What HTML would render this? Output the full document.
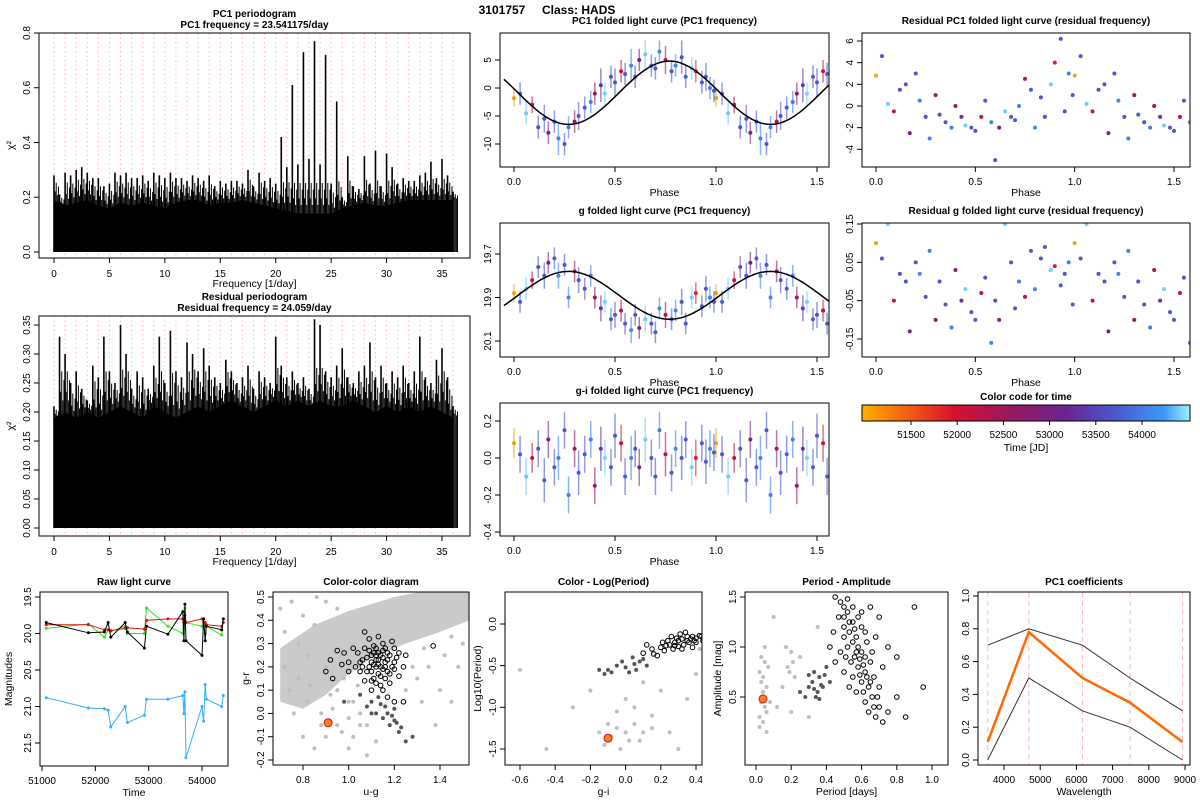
<!DOCTYPE html>
<html><head><meta charset="utf-8"><title>3101757 Class: HADS</title>
<style>
html,body{margin:0;padding:0;background:#fff;}
svg{display:block;font-family:"Liberation Sans",Arial,sans-serif;}
</style></head>
<body>
<svg id="fig" width="1200" height="800" viewBox="0 0 1200 800" xmlns="http://www.w3.org/2000/svg">
<defs>
<linearGradient id="tgrad" x1="0" x2="1" y1="0" y2="0">
<stop offset="0" stop-color="#ffb000"/><stop offset="0.12" stop-color="#f56a10"/><stop offset="0.28" stop-color="#d8102e"/><stop offset="0.45" stop-color="#9a1860"/><stop offset="0.62" stop-color="#6a2490"/><stop offset="0.78" stop-color="#4a5ad0"/><stop offset="0.92" stop-color="#3a9af8"/><stop offset="1" stop-color="#a0f0ff"/>
</linearGradient>
</defs>
<text x="547" y="14" font-size="12" font-weight="bold" text-anchor="middle" xml:space="preserve">3101757     Class: HADS</text>
</svg>
<script>
// ---------- DATA ----------
const pc1PeakFreq=[0,0.5,1,1.5,2,2.5,3,3.5,4,4.5,5,5.5,6,6.5,7,7.5,8,8.5,9,9.5,10,10.5,11,11.5,12,12.5,13,13.5,14,14.5,15,15.5,16,16.5,17,17.5,18,18.5,19,19.5,20,20.5,21,21.5,22,22.5,23,23.5,24,24.5,25,25.5,26,26.5,27,27.5,28,28.5,29,29.5,30,30.5,31,31.5,32,32.5,33,33.5,34,34.5,35,35.5,36];
const pc1Peaks=[0.28,0.21,0.29,0.28,0.3,0.31,0.29,0.27,0.27,0.24,0.25,0.29,0.28,0.29,0.27,0.27,0.28,0.26,0.29,0.28,0.27,0.29,0.27,0.27,0.26,0.28,0.27,0.26,0.28,0.24,0.26,0.25,0.26,0.26,0.25,0.3,0.24,0.29,0.26,0.27,0.25,0.42,0.31,0.61,0.32,0.73,0.34,0.77,0.32,0.72,0.25,0.55,0.2,0.35,0.24,0.23,0.35,0.25,0.37,0.24,0.36,0.31,0.25,0.27,0.26,0.26,0.28,0.29,0.33,0.27,0.34,0.28,0.22];
const floorFreq=[0,1,2,3,4,5,6,7,8,9,10,11,12,13,14,15,16,17,18,19,20,21,22,23,24,25,26,27,28,29,30,31,32,33,34,35,36];
const pc1Floor=[0.19,0.17,0.18,0.19,0.17,0.16,0.18,0.17,0.18,0.17,0.16,0.18,0.19,0.19,0.17,0.18,0.18,0.19,0.18,0.17,0.16,0.15,0.14,0.14,0.14,0.14,0.16,0.17,0.18,0.17,0.17,0.18,0.19,0.19,0.19,0.19,0.19];
const resPeaks=[0.21,0.33,0.3,0.25,0.27,0.24,0.22,0.28,0.26,0.33,0.27,0.25,0.35,0.3,0.24,0.27,0.26,0.24,0.28,0.33,0.25,0.34,0.27,0.26,0.32,0.3,0.27,0.31,0.28,0.26,0.25,0.29,0.27,0.25,0.26,0.28,0.24,0.27,0.26,0.25,0.33,0.28,0.26,0.27,0.25,0.26,0.24,0.36,0.35,0.27,0.26,0.28,0.31,0.26,0.25,0.27,0.28,0.32,0.26,0.28,0.25,0.27,0.26,0.28,0.25,0.27,0.33,0.26,0.25,0.29,0.31,0.26,0.21];
const resFloor=[0.19,0.2,0.19,0.2,0.19,0.2,0.21,0.2,0.19,0.21,0.2,0.19,0.2,0.21,0.2,0.21,0.22,0.21,0.2,0.21,0.22,0.21,0.22,0.21,0.22,0.21,0.21,0.22,0.21,0.2,0.21,0.2,0.21,0.2,0.21,0.2,0.19];
const fillFrac=[0.35,0.7,0.2,0.55];

const obsPh=[0.00,0.03,0.06,0.09,0.12,0.15,0.17,0.2,0.22,0.25,0.27,0.3,0.32,0.35,0.38,0.4,0.43,0.45,0.48,0.5,0.53,0.55,0.58,0.6,0.62,0.65,0.68,0.7,0.72,0.75,0.78,0.8,0.83,0.85,0.88,0.9,0.93,0.95,0.97,0.99];
const obsT=[51080,53700,54380,52240,53650,53680,52960,53700,54050,53680,54020,52560,53690,53700,54000,52600,53360,54400,53690,53680,52170,53700,54060,53650,52920,54380,53700,53680,54010,52290,53700,54080,53650,53700,54390,51870,53690,53680,54000,53700];
const pc1Val=[-1.8,-1,-4.5,-3,-7,-5.5,-8,-6,-9,-10,-7,-6,-5,-3.5,-2.5,-1,0.5,-1,2,1,3,2.5,4,2,5,6,4,3.5,6.5,5,3,4,5.5,2,3.5,3,1,2,0,-0.5];
const pc1Err=[1.5,2,2,1.5,2,2.5,2,2,3,2,2,2,2.5,2,2,2,3,2,2,2.5,2,2,3,2,2,2.5,2,2,2,2.5,2,2,3,2,2,2,2,2.5,2,2];
const gVal=[19.88,19.92,19.86,19.82,19.76,19.8,19.74,19.72,19.8,19.75,19.9,19.78,19.82,19.86,19.8,19.9,19.95,19.92,20.0,19.98,19.96,20.02,20.05,19.98,20.04,20.0,20.02,20.06,19.95,19.98,20.0,19.96,19.92,20.02,19.9,19.88,19.94,19.86,19.9,19.92];
const gErr=[0.04,0.05,0.05,0.04,0.05,0.06,0.05,0.05,0.06,0.05,0.05,0.05,0.06,0.05,0.05,0.05,0.06,0.05,0.05,0.06,0.05,0.05,0.06,0.05,0.05,0.06,0.05,0.05,0.05,0.06,0.05,0.05,0.06,0.05,0.05,0.05,0.05,0.06,0.05,0.05];
const giVal=[0.08,0.02,-0.1,0,0.05,-0.12,0.1,-0.05,0,0.15,-0.2,0.05,-0.08,0.02,0.1,-0.15,0.05,0,-0.05,0.12,0.08,-0.1,0,0.05,-0.05,0.1,0,-0.1,0.15,0.02,-0.08,0.05,0,0.1,-0.05,0,0.08,-0.02,0.05,0.03];
const giErr=[0.08,0.1,0.1,0.08,0.1,0.12,0.1,0.1,0.12,0.1,0.1,0.1,0.12,0.1,0.1,0.1,0.12,0.1,0.1,0.12,0.1,0.1,0.12,0.1,0.1,0.12,0.1,0.1,0.1,0.12,0.1,0.1,0.12,0.1,0.1,0.1,0.1,0.12,0.1,0.1];
const resPC1Val=[2.8,4.6,0.2,-0.5,1.5,2,-2.5,3,0.5,-1,-3,1,-0.8,-1.5,-2,0,-1,-1.8,-2,-2.3,-1,0.5,-1.5,-5,-2,-0.5,-1,-1.3,0,2.5,1.5,-2,0.8,-1,2,4,6.2,-0.5,3,1];
const resGVal=[0.1,0.06,0.15,-0.05,0.02,0,-0.13,0.05,0.02,-0.04,0.08,-0.1,0,-0.06,-0.12,0.03,-0.05,-0.02,-0.08,-0.1,-0.03,0.01,-0.16,-0.05,-0.1,0.15,0.05,-0.07,0,-0.04,0.08,-0.02,0.06,0.09,0.03,0.04,-0.01,0.02,0.05,-0.06];
const pc1Fit=[-0.85,5.65,0.77];
const gFit=[19.89,0.11,0.27];

const rawT=[51080,51870,52170,52240,52290,52560,52600,52920,52960,53360,53640,53660,53680,53700,54000,54030,54060,54080,54370,54400];
const rawBlack=[19.85,19.99,19.98,19.85,20.05,19.85,19.98,20.2,19.9,20.01,19.7,20.1,19.6,20.1,20.3,19.8,20.1,19.9,19.95,19.8];
const rawGreen=[19.93,19.87,20.05,19.95,19.97,19.9,20.0,20.0,19.65,19.9,20.0,19.8,19.65,19.85,19.9,19.85,20.0,19.9,20.02,19.8];
const rawRed=[19.88,19.88,19.95,19.95,19.96,19.93,19.92,19.94,19.82,19.8,19.8,19.85,19.75,19.85,19.8,19.85,19.85,19.88,19.9,19.85];
const rawBlue=[20.88,21.02,21.03,21.05,21.28,21.0,21.22,21.12,20.9,20.9,20.85,21.1,20.8,21.7,21.0,21.2,20.7,20.9,21.0,20.85];

const ccBand=[[0.7,0.28],[0.85,0.38],[1.0,0.44],[1.2,0.5],[1.35,0.53],[1.53,0.53],[1.53,0.4],[1.4,0.35],[1.25,0.3],[1.1,0.24],[1.0,0.17],[0.9,0.08],[0.8,0.02],[0.7,0.05]];
const ccGrey=[[0.7,0.45],[0.72,0.35],[0.75,0.48],[0.78,0.3],[0.8,0.42],[0.82,0.25],[0.85,0.38],[0.74,0.1],[0.76,0.0],[0.8,-0.1],[0.82,0.05],[0.85,-0.15],[0.88,0.0],[0.9,-0.1],[0.95,-0.05],[1.0,-0.15],[1.02,-0.1],[1.05,-0.05],[1.08,-0.18],[0.95,0.1],[1.0,0.05],[0.98,0.15],[1.3,0.15],[1.35,0.2],[1.4,0.1],[1.45,0.05],[1.5,0.3],[1.48,0.2],[1.32,0.05],[1.38,-0.05],[1.25,0.1],[1.42,0.25],[0.72,0.2],[0.78,0.15],[0.83,0.12],[0.9,0.2],[0.92,0.08],[0.86,0.5],[0.9,0.48],[0.95,0.45],[1.02,0.05],[1.05,0.0],[1.08,-0.05],[0.97,-0.08],[1.0,-0.02],[1.12,-0.12],[0.88,-0.05],[0.93,0.02],[1.04,0.12],[1.28,0.2],[1.33,0.28],[1.45,0.33]];
const ccBlack=[[1.1,0.22],[1.12,0.25],[1.14,0.2],[1.08,0.24],[1.15,0.27],[1.1,0.18],[1.13,0.23],[1.16,0.22],[1.18,0.25],[1.06,0.2],[1.12,0.28],[1.17,0.18],[1.09,0.27],[1.2,0.22],[1.11,0.15],[1.14,0.12],[1.07,0.14],[1.03,0.2],[1.0,0.22],[0.98,0.26],[0.95,0.27],[0.92,0.23],[0.9,0.18],[0.93,0.15],[1.2,0.28],[1.22,0.26],[1.24,0.2],[1.25,0.25],[1.22,0.16],[1.18,0.13],[1.15,0.1],[1.17,0.07],[1.2,0.05],[1.1,0.1],[1.05,0.18],[1.04,0.26],[1.09,0.32],[1.07,0.35],[1.13,0.33],[1.02,0.28],[1.0,0.18],[0.97,0.21],[1.19,0.31],[1.37,0.29],[1.24,0.05],[1.12,0.2],[1.15,0.24],[1.11,0.26],[1.13,0.17],[1.16,0.15],[1.11,0.21],[1.13,0.26],[1.15,0.19],[1.17,0.23],[1.09,0.2],[1.12,0.23],[1.14,0.25],[1.16,0.28],[1.1,0.25],[1.08,0.18],[1.19,0.2],[1.21,0.24],[1.14,0.16],[1.12,0.13],[1.06,0.23],[1.07,0.28],[1.18,0.17],[1.11,0.29],[1.15,0.3],[1.13,0.21],[1.17,0.26],[1.1,0.14],[1.05,0.22],[1.2,0.19],[1.16,0.2]];
const ccDark=[[1.1,0.05],[1.12,0.0],[1.15,-0.02],[1.18,-0.05],[1.2,0.02],[1.22,-0.08],[1.25,-0.12],[1.28,-0.1],[1.08,0.03],[1.05,0.08],[1.14,0.04],[1.2,-0.03],[1.17,0.0],[1.23,-0.06],[0.98,0.05],[1.1,0.0],[1.13,0.07],[1.16,0.03],[1.19,-0.01],[1.21,-0.04]];
const ccStar=[0.91,-0.04];

const clpBlack=[[0.1,-0.35],[0.15,-0.3],[0.2,-0.28],[0.22,-0.32],[0.25,-0.25],[0.28,-0.22],[0.3,-0.2],[0.32,-0.18],[0.35,-0.2],[0.38,-0.15],[0.4,-0.17],[0.42,-0.14],[0.3,-0.27],[0.27,-0.3],[0.33,-0.25],[0.36,-0.22],[0.39,-0.2],[0.24,-0.2],[0.26,-0.15],[0.31,-0.12],[0.34,-0.1],[0.18,-0.38],[0.12,-0.25],[0.44,-0.2],[0.38,-0.28],[0.29,-0.17],[0.21,-0.22],[0.35,-0.15],[0.4,-0.22],[0.32,-0.3],[0.16,-0.36],[0.23,-0.26],[0.37,-0.18],[0.43,-0.15],[0.28,-0.26]];
const clpDark=[[-0.1,-0.55],[-0.05,-0.5],[0.0,-0.52],[0.05,-0.48],[0.08,-0.45],[-0.08,-0.58],[0.02,-0.58],[0.1,-0.42],[-0.12,-0.6],[0.06,-0.55],[-0.02,-0.45],[0.12,-0.5],[-0.15,-0.55],[0.04,-0.4]];
const clpGrey=[[-0.1,-1.2],[-0.05,-1.25],[0.0,-1.3],[-0.08,-1.35],[0.02,-1.4],[-0.12,-1.45],[0.05,-1.2],[0.1,-1.3],[-0.03,-1.5],[0.15,-1.25],[-0.15,-1.3],[0.08,-1.4],[-0.6,-0.55],[-0.45,-1.5],[0.2,-0.8],[0.3,-1.5],[0.45,-1.5],[0.35,-0.9],[-0.3,-1.0],[0.4,-0.6],[0.25,-1.3],[0.0,-0.9],[0.1,-0.7],[-0.2,-0.8],[0.42,-0.3],[0.15,-1.1],[-0.05,-1.05],[0.05,-1.0]];
const clpStar=[-0.1,-1.37];

const paBlack=[[0.45,1.5],[0.48,1.45],[0.5,1.4],[0.47,1.3],[0.52,1.35],[0.55,1.25],[0.5,1.2],[0.53,1.15],[0.57,1.1],[0.6,1.2],[0.55,1.05],[0.58,1.0],[0.52,1.0],[0.6,0.95],[0.62,0.9],[0.56,0.9],[0.65,0.85],[0.58,0.8],[0.62,0.75],[0.67,0.7],[0.6,0.65],[0.64,0.6],[0.7,0.6],[0.66,0.5],[0.62,0.45],[0.7,0.4],[0.68,0.3],[0.72,0.25],[0.75,0.35],[0.8,0.5],[0.85,0.3],[0.5,1.1],[0.48,0.95],[0.45,0.85],[0.55,0.7],[0.6,1.35],[0.65,1.4],[0.7,1.3],[0.75,1.0],[0.8,0.9],[0.9,1.4],[0.95,0.6],[0.42,1.0],[0.44,1.15],[0.57,0.55],[0.63,1.05],[0.68,1.1],[0.5,0.75],[0.53,0.6],[0.72,0.8],[0.5,1.3],[0.53,1.25],[0.56,1.18],[0.58,1.3],[0.55,1.4],[0.52,1.48],[0.57,0.95],[0.59,0.88],[0.61,0.82],[0.63,0.7],[0.65,0.65],[0.61,0.55],[0.59,0.72],[0.66,0.95],[0.54,0.85],[0.51,0.9],[0.62,1.15],[0.67,0.4],[0.64,0.35],[0.69,0.5]];
const paDark=[[0.3,0.6],[0.32,0.65],[0.35,0.55],[0.36,0.7],[0.38,0.6],[0.33,0.75],[0.4,0.8],[0.28,0.5],[0.34,0.5],[0.37,0.62],[0.42,0.65],[0.3,0.72],[0.25,0.55],[0.33,0.58],[0.36,0.48],[0.39,0.72]];
const paGrey=[[0.02,0.3],[0.03,0.5],[0.04,0.7],[0.05,0.4],[0.03,0.9],[0.06,0.6],[0.02,0.2],[0.07,0.8],[0.05,1.0],[0.04,0.25],[0.08,0.45],[0.03,0.65],[0.18,0.8],[0.2,0.95],[0.22,0.7],[0.17,1.0],[0.25,0.9],[0.15,0.6],[0.1,1.3],[0.35,1.2],[0.2,0.35],[0.3,0.3],[0.12,0.4],[0.06,0.15],[0.04,0.55],[0.02,0.75],[0.06,0.35],[0.05,0.85],[0.03,0.45],[0.21,0.85],[0.19,0.75]];
const paStar=[0.04,0.48];

const coefWave=[3551,4686,6166,7480,8932];
const coefMean=[0.11,0.78,0.5,0.35,0.11];
const coefUpper=[0.7,0.8,0.7,0.5,0.3];
const coefLower=[0.0,0.5,0.3,0.2,0.0];

const cbTicks=[51500,52000,52500,53000,53500,54000];

// ---------- HELPERS ----------
const NS="http://www.w3.org/2000/svg";
const svg=document.getElementById('fig');
function el(tag,attrs,parent){const e=document.createElementNS(NS,tag);for(const k in attrs)e.setAttribute(k,attrs[k]);(parent||svg).appendChild(e);return e;}
function lin(v0,p0,v1,p1){return v=>p0+(v-v0)*(p1-p0)/(v1-v0);}
function txt(parent,x,y,s,size,opts){const t=el('text',Object.assign({x:x,y:y,'font-size':size,'text-anchor':'middle'},opts||{}),parent);t.textContent=s;return t;}
const tStops=[[50967,[255,176,0]],[51390,[245,106,16]],[51960,[216,16,46]],[52560,[154,24,96]],[53160,[106,36,144]],[53720,[74,90,208]],[54220,[58,154,248]],[54520,[160,240,255]]];
function tcol(t){if(t<=tStops[0][0])return 'rgb('+tStops[0][1]+')';for(let i=1;i<tStops.length;i++){if(t<=tStops[i][0]){const a=tStops[i-1],b=tStops[i],f=(t-a[0])/(b[0]-a[0]);const c=a[1].map((v,j)=>Math.round(v+(b[1][j]-v)*f));return 'rgb('+c+')';}}return 'rgb('+tStops[tStops.length-1][1]+')';}

function frame(g,o){
  const [x0,y0,x1,y1]=o.box;
  const clip='clip-'+o.id;
  const cp=el('clipPath',{id:clip},g);el('rect',{x:x0,y:y0,width:x1-x0,height:y1-y0},cp);
  o.xt.forEach(v=>{const x=o.sx(v);
    const tk=el('line',{x1:x,x2:x,y1:y1,y2:y1+5,stroke:'#000','stroke-width':1},g);
    
    
    const lb=txt(g,x,y1+(o.xto||17),o.xf?o.xf(v):String(v),10);
    
    });
  o.yt.forEach(v=>{const y=o.sy(v);
    const tk=el('line',{x1:x0-5,x2:x0,y1:y,y2:y,stroke:'#000','stroke-width':1},g);
    
    
    const lx=x0-9;
    const lb=txt(g,lx,y,o.yf?o.yf(v):String(v),10,{transform:'rotate(-90 '+lx+' '+y+')'});
    
    });
  if(o.title){o.title.forEach((s,i)=>{const t=txt(g,(x0+x1)/2,o.ty+i*11,s,10,{'font-weight':'bold'});
    
    });}
  if(o.xl){const t=txt(g,(x0+x1)/2,y1+(o.xlo||29),o.xl,10.5);
    
    }
  if(o.yl){const ym=(y0+y1)/2,xx=o.ylx;const t=txt(g,xx,ym,o.yl,10.5,{transform:'rotate(-90 '+xx+' '+ym+')'});
    
    }
  const plot=el('g',{'clip-path':'url(#'+clip+')'},g);
  
  
  const box=el('rect',{x:x0,y:y0,width:x1-x0,height:y1-y0,fill:'none',stroke:'#000','stroke-width':1},g);
  
  
  return plot;
}
const f1=v=>v.toFixed(1), f2=v=>v.toFixed(2);
function panel(name){const g=el('g',{});return g;}

// ---------- PERIODOGRAMS ----------
function periodogram(name,box,sy,yt,yf,title,ty,peaks,floor,id){
  const g=panel(name);
  const sx=lin(0,54,35,442);
  const p=frame(g,{id:id,box:box,sx:sx,sy:sy,xt:[0,5,10,15,20,25,30,35],yt:yt,yf:yf,title:title,ty:ty,xl:'Frequency [1/day]',yl:'χ²',ylx:14,xto:19});
  for(let f=0;f<=36;f++){const x=sx(f);
    const l=el('line',{x1:x,x2:x,y1:box[1],y2:box[3],stroke:'#ffb6c1','stroke-width':1,'stroke-dasharray':'1.5,3'},p);
    
    }
  let pts=floorFreq.map((f,i)=>sx(f)+','+sy(floor[i])).join(' ');
  pts+=' '+sx(36)+','+sy(0)+' '+sx(0)+','+sy(0);
  const fl=el('polygon',{points:pts,fill:'#000'},p);
  
  
  pc1PeakFreq.forEach((f,i)=>{const x=sx(f);
    const l=el('line',{x1:x,x2:x,y1:sy(0),y2:sy(peaks[i]),stroke:'#000','stroke-width':1.6},p);
    
    
    const fv=floor[Math.min(36,Math.round(f))];
    const top=Math.min(peaks[i],0.3);
    fillFrac.forEach((k,j)=>{const xx=x+1.1*(j+1)*1.0+(j>=2?0.5:0)+j*0.0;
      const h=fv+(top-fv)*k;
      const s=el('line',{x1:x+1.1+1.1*j,x2:x+1.1+1.1*j,y1:sy(0),y2:sy(h),stroke:'#000','stroke-width':1},p);
      
      });});
}
periodogram('pc1-periodogram',[39,33,470,258],lin(0,252,0.8,33),[0,0.2,0.4,0.6,0.8],f1,['PC1 periodogram','PC1 frequency = 23.541175/day'],17,pc1Peaks,pc1Floor,'p1');
periodogram('residual-periodogram',[39,316,470,536],lin(0,528,0.35,325),[0,0.05,0.1,0.15,0.2,0.25,0.3,0.35],f2,['Residual periodogram','Residual frequency = 24.059/day'],300,resPeaks,resFloor,'p2');

// ---------- FOLDED CURVES ----------
function folded(name,id,box,sx,sy,yt,yf,title,vals,errs,fit,fitInv){
  const g=panel(name);
  const p=frame(g,{id:id,box:box,sx:sx,sy:sy,xt:[0,0.5,1,1.5],xf:f1,yt:yt,yf:yf,title:[title],ty:box[1]-9,xl:'Phase',xto:18,xlo:29});
  obsPh.forEach((ph,i)=>{[ph,ph+1].forEach(pp=>{ if(pp>1.6)return;
    const x=sx(pp),c=tcol(obsT[i]);
    if(errs){const e=el('line',{x1:x,x2:x,y1:sy(vals[i]-errs[i]),y2:sy(vals[i]+errs[i]),stroke:c,'stroke-width':1.5,'stroke-opacity':0.6},p);
      
      }
    const d=el('circle',{cx:x,cy:sy(vals[i]),r:2,fill:c},p);
    
    });});
  if(fit){let d='';for(let k=0;k<=160;k++){const ph=-0.05+k*1.65/160;const v=fit[0]+(fitInv?-1:1)*fit[1]*Math.cos(2*Math.PI*(ph-fit[2]));d+=(k?'L':'M')+sx(ph).toFixed(1)+','+sy(v).toFixed(1);}
    const c=el('path',{d:d,fill:'none',stroke:'#000','stroke-width':1.5},p);
    
    }
}
const sxL=lin(0,514,1.5,817), sxR=lin(0,876,1.5,1174);
folded('pc1-folded-light-curve','f1',[500,33,829,167],sxL,lin(0,88,5,60),[-10,-5,0,5],null,'PC1 folded light curve (PC1 frequency)',pc1Val,pc1Err,pc1Fit,false);
folded('residual-pc1-folded','f2',[862,33,1190,167],sxR,lin(0,106,6,41),[-4,-2,0,2,4,6],null,'Residual PC1 folded light curve (residual frequency)',resPC1Val,null,null);
folded('g-folded-light-curve','f3',[500,223,829,357],sxL,lin(19.7,254,20.1,341),[19.7,19.9,20.1],f1,'g folded light curve (PC1 frequency)',gVal,gErr,gFit,true);
folded('residual-g-folded','f4',[862,223,1190,357],sxR,lin(0.15,224,-0.15,339),[-0.15,-0.05,0.05,0.15],f2,'Residual g folded light curve (residual frequency)',resGVal,null,null);
folded('g-i-folded-light-curve','f5',[500,403,829,536],sxL,lin(0,458,-0.4,532),[-0.4,-0.2,0,0.2],f1,'g-i folded light curve (PC1 frequency)',giVal,giErr,null);

// ---------- COLORBAR ----------
(function(){const g=panel('time-colorbar');
  const sx=lin(51500,911,54000,1142);
  const r=el('rect',{x:862,y:405,width:328,height:16,fill:'url(#tgrad)',stroke:'#000','stroke-width':1},g);
  
  
  const t=txt(g,1026,400,'Color code for time',10,{'font-weight':'bold'});
  
  
  cbTicks.forEach(v=>{const x=sx(v);
    const l=el('line',{x1:x,x2:x,y1:421,y2:425,stroke:'#000'},g);
    
    
    const lb=txt(g,x,438,String(v),10);
    
    });
  const xl=txt(g,1026,451,'Time [JD]',10.5);
  
  
})();

// ---------- RAW LIGHT CURVE ----------
(function(){const g=panel('raw-light-curve');
  const sx=lin(51000,42,54000,202), sy=lin(19.5,597,21.5,743);
  const p=frame(g,{id:'b1',box:[40,592,228,766],sx:sx,sy:sy,xt:[51000,52000,53000,54000],yt:[19.5,20,20.5,21,21.5],yf:f1,title:['Raw light curve'],ty:585,xl:'Time',yl:'Magnitudes',ylx:12,xto:18,xlo:30});
  [[rawBlue,'#30b0ff','u-band'],[rawGreen,'#33dd22','r-band'],[rawRed,'#e01010','i-band'],[rawBlack,'#000','g-band']].forEach(s=>{
    const d=rawT.map((t,i)=>(i?'L':'M')+sx(t).toFixed(1)+','+sy(s[0][i]).toFixed(1)).join('');
    const l=el('path',{d:d,fill:'none',stroke:s[1],'stroke-width':1},p);
    
    
    rawT.forEach((t,i)=>{const c=el('circle',{cx:sx(t),cy:sy(s[0][i]),r:1.5,fill:s[1]},p);
      
      });});
})();

// ---------- SCATTERS ----------
function scatter(name,id,box,sx,sy,xt,xf,yt,yf,title,xl,yl,grey,dark,black,star,band){
  const g=panel(name);
  const p=frame(g,{id:id,box:box,sx:sx,sy:sy,xt:xt,xf:xf,yt:yt,yf:yf,title:[title],ty:585,xl:xl,yl:yl,ylx:box[0]-24,xto:18,xlo:30});
  if(band){const b=el('polygon',{points:band.map(q=>sx(q[0])+','+sy(q[1])).join(' '),fill:'#cacaca'},p);
    
    }
  grey.forEach(q=>{const c=el('circle',{cx:sx(q[0]),cy:sy(q[1]),r:2,fill:'#bebebe'},p);
    
    });
  dark.forEach(q=>{const c=el('circle',{cx:sx(q[0]),cy:sy(q[1]),r:2,fill:'#555'},p);
    
    });
  black.forEach(q=>{const c=el('circle',{cx:sx(q[0]),cy:sy(q[1]),r:2.3,fill:'none',stroke:'#000','stroke-width':1},p);
    
    });
  const s=el('circle',{cx:sx(star[0]),cy:sy(star[1]),r:4,fill:'#ff7f24',stroke:'#d01010','stroke-width':1},p);
  
  
}
scatter('color-color-diagram','b2',[273,592,469,765],lin(0.8,303,1.4,440),lin(0.5,597,-0.2,760),[0.8,1.0,1.2,1.4],f1,[-0.2,-0.1,0,0.1,0.2,0.3,0.4,0.5],f1,'Color-color diagram','u-g','g-r',ccGrey,ccDark,ccBlack,ccStar,ccBand);
scatter('color-log-period','b3',[505,592,702,765],lin(-0.6,520,0.4,696),lin(0,624,-1.5,749),[-0.6,-0.4,-0.2,0,0.2,0.4],f1,[-1.5,-1,-0.5,0],f1,'Color - Log(Period)','g-i','Log10(Period)',clpGrey,clpDark,clpBlack,clpStar,null);
scatter('period-amplitude','b4',[745,592,948,765],lin(0,756,1,932),lin(1.5,597,0.5,697),[0,0.2,0.4,0.6,0.8,1.0],f1,[0.5,1.0,1.5],f1,'Period - Amplitude','Period [days]','Amplitude [mag]',paGrey,paDark,paBlack,paStar,null);

// ---------- PC1 COEFFICIENTS ----------
(function(){const g=panel('pc1-coefficients');
  const sx=lin(4000,1004,9000,1185), sy=lin(0,760,1,596);
  const p=frame(g,{id:'b5',box:[978,592,1190,765],sx:sx,sy:sy,xt:[4000,5000,6000,7000,8000,9000],yt:[0,0.2,0.4,0.6,0.8,1.0],yf:f1,title:['PC1 coefficients'],ty:585,xl:'Wavelength',xto:18,xlo:30});
  coefWave.forEach(w=>{const l=el('line',{x1:sx(w),x2:sx(w),y1:592,y2:765,stroke:'#ffb6c1','stroke-width':1,'stroke-dasharray':'5,4'},p);
    
    });
  [[coefUpper,'#333',1,'upper-bound-line'],[coefLower,'#333',1,'lower-bound-line'],[coefMean,'#ff6a00',2.5,'coefficient-line']].forEach(s=>{
    const d=coefWave.map((w,i)=>(i?'L':'M')+sx(w).toFixed(1)+','+sy(s[0][i]).toFixed(1)).join('');
    const l=el('path',{d:d,fill:'none',stroke:s[1],'stroke-width':s[2]},p);
    
    });
})();
</script>
</body></html>
